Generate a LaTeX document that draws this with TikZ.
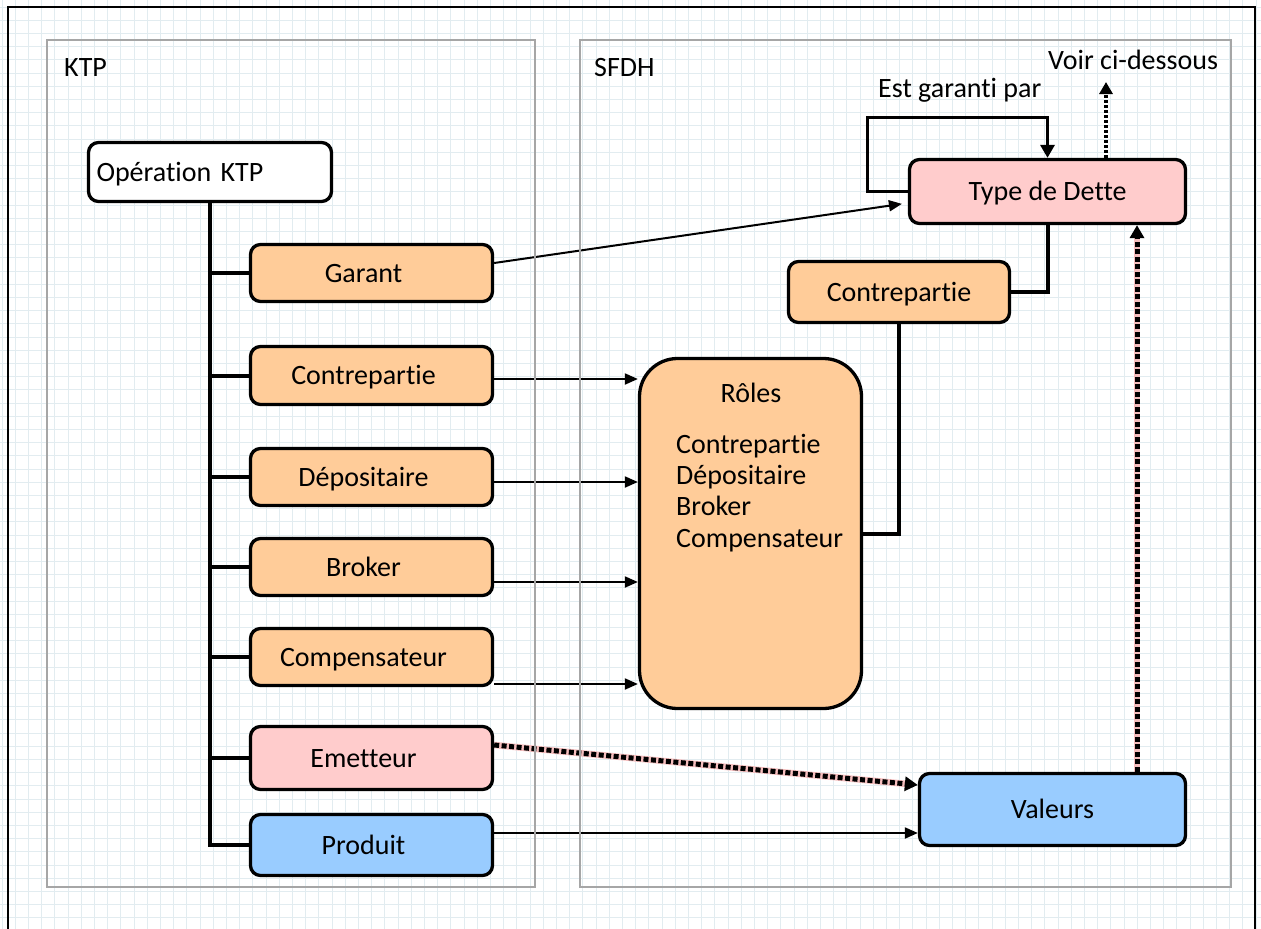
\documentclass[tikz,border=0pt]{standalone}
\usepackage{fontspec}
\setmainfont[Ligatures={NoCommon}]{Carlito}
\usetikzlibrary{arrows.meta,calc}
\pgfdeclarelayer{back}
\pgfsetlayers{back,main}
\definecolor{gridc}{RGB}{226,236,240}
\definecolor{grayc}{RGB}{166,166,166}
\definecolor{orangef}{RGB}{255,204,153}
\definecolor{pinkf}{RGB}{255,204,204}
\definecolor{bluef}{RGB}{153,204,255}
\definecolor{pinkl}{RGB}{246,190,190}
\begin{document}
\begin{tikzpicture}[x=1pt,y=-1pt,
  every node/.style={font=\fontsize{28pt}{31.3pt}\selectfont, inner sep=0pt},
  box/.style={draw=black, line width=3.3pt, rounded corners=10pt, text height=18pt, text depth=0pt},
  lbox/.style={box, minimum width=242pt, minimum height=57pt, execute at begin node={\hspace*{-16pt}}},
  orangebox/.style={lbox, fill=orangef},
  container/.style={draw=grayc, line width=1.5pt},
  arr/.style={line width=2pt, -{Triangle[length=13pt,width=11pt]}},
  conn/.style={line width=4pt},
  trunkline/.style={line width=4.5pt},
  selfarr/.style={line width=3.2pt, -{Triangle[length=13pt,width=14pt]}},
  pinkline/.style={draw=pinkl, line width=6.5pt},
  dotarr/.style={line width=5pt, dash pattern=on 5pt off 2.5pt, -{Triangle[length=13pt,width=14pt]}},
  voirarr/.style={line width=3.2pt, dash pattern=on 3pt off 2pt, -{Triangle[length=12pt,width=13pt]}}
]
\useasboundingbox (0,0) rectangle (1261,929);
\begin{pgfonlayer}{back}
  \fill[white] (0,0) rectangle (1261,929);
  \foreach \i in {0,...,95} \draw[gridc, line width=1pt] (\i*13.2+2,0) -- (\i*13.2+2,929);
  \foreach \j in {0,...,70} \draw[gridc, line width=1pt] (0,\j*13.2+7) -- (1261,\j*13.2+7);
\end{pgfonlayer}

% containers and frame
\node[container, minimum width=488pt, minimum height=847pt] (ktpbox) at (291,463.5) {};
\node[container, minimum width=651pt, minimum height=847pt] (sfdhbox) at (905.5,463.5) {};
\node[draw=black, line width=2pt, minimum width=1247pt, minimum height=940pt] (frame) at (631.5,477) {};

\node[anchor=base west] (ktplbl) at (64,76) {KTP};
\node[anchor=base west] (sfdhlbl) at (594,76) {SFDH};
\node[anchor=base west] (estgar) at (878,97) {Est garanti par};
\node[anchor=base west] (voir) at (1048,69) {Voir ci-dessous};

% left column
\node[box, fill=white, minimum width=243pt, minimum height=59pt, text width=227pt, align=left] (opktp) at (210,172) {Opération KTP};
\node[orangebox] (garant) at (371.5,273) {Garant};
\node[orangebox, minimum height=58pt] (contre) at (371.5,375.5) {Contrepartie};
\node[orangebox] (depo) at (371.5,477) {Dépositaire};
\node[orangebox] (broker) at (371.5,567) {Broker};
\node[orangebox] (comp) at (371.5,657) {Compensateur};
\node[lbox, fill=pinkf, minimum height=63pt] (emet) at (371.5,758) {Emetteur};
\node[lbox, fill=bluef, minimum height=61pt] (prod) at (371.5,845) {Produit};

% right side
\node[box, fill=pinkf, minimum width=276pt, minimum height=64pt] (tdd) at (1047.5,191.5) {Type de Dette};
\node[box, fill=orangef, minimum width=221pt, minimum height=61pt] (rc) at (899,292) {Contrepartie};
\node[box, fill=orangef, rounded corners=38pt, minimum width=222pt, minimum height=350pt] (roles) at (750.5,533.5) {};
\node[anchor=base] (rtitle) at (751,402) {Rôles};
\node[anchor=base west] (r1) at (676,453) {Contrepartie};
\node[anchor=base west] (r2) at (676,484) {Dépositaire};
\node[anchor=base west] (r3) at (676,515) {Broker};
\node[anchor=base west] (r4) at (676,547) {Compensateur};
\node[box, fill=bluef, minimum width=266pt, minimum height=72pt] (val) at (1052.5,809.5) {Valeurs};

\coordinate (vx) at (1137,0);
\coordinate (vo) at (1106,82);

\begin{pgfonlayer}{back}
  % tree
  \draw[trunkline] (opktp.south) |- (prod.west);
  \foreach \n in {garant,contre,depo,broker,comp,emet}
    \draw[conn] (opktp.south |- \n.west) -- (\n.west);
  % garant -> type de dette
  \path ([yshift=10pt]garant.east) coordinate (g1) ([yshift=-11.5pt]tdd.west) coordinate (g2);
  \draw[arr, shorten >=6pt] (g1) -- (g2);
  % roles arrows
  \foreach \n/\d in {contre/-3.5, depo/-5, broker/-15, comp/-27} {
    \path ([yshift=\d pt]\n.east) coordinate (s);
    \draw[arr] (s) -- (s -| roles.west);
  }
  % contrepartie (SFDH)
  \draw[conn] (rc.east) -| (tdd.south);
  \draw[conn] (rc.south) |- (roles.east);
  % self loop
  \draw[selfarr] (tdd.west) -| ++(-40,-74) -| (tdd.north);
  % emetteur -> valeurs
  \path ([yshift=13pt]emet.east) coordinate (e1) ([yshift=24.5pt]val.west) coordinate (e2);
  \draw[pinkline, shorten >=10pt] (e1) -- (e2);
  \draw[dotarr] (e1) -- (e2);
  % produit -> valeurs
  \path ([yshift=12pt]prod.east) coordinate (p1);
  \draw[arr] (p1) -- (p1 -| val.west);
  % valeurs -> type de dette
  \draw[pinkline, shorten >=10pt] (val.north -| vx) -- (tdd.south -| vx);
  \draw[dotarr] (val.north -| vx) -- (tdd.south -| vx);
  % voir ci-dessous
  \draw[voirarr] (tdd.north -| vo) -- (vo);
\end{pgfonlayer}
\end{tikzpicture}
\end{document}
